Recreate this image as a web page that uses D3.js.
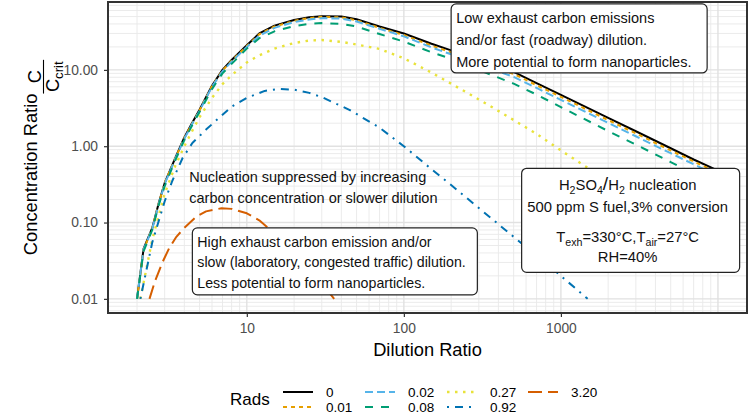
<!DOCTYPE html>
<html><head><meta charset="utf-8">
<script src="https://cdn.jsdelivr.net/npm/d3@7/dist/d3.min.js"></script>
<style>
body{margin:0;background:#fff;}
svg{display:block;font-family:"Liberation Sans",Arial,Helvetica,sans-serif;}
</style></head><body>
<svg id="chart" width="750" height="414"></svg>
<script>
// ---------------- data ----------------
const radsLevels = ["0","0.01","0.02","0.08","0.27","0.92","3.20"];

const dilutionMain = [2,2.2,2.5,2.75,3,3.5,4,4.5,5,6,7,8,10,12,15,20,25,30,40,50,70,100,150,200,300,500,700,1000,2000,3000,5000,7000,10000];
const concRads0    = [0.01,0.045,0.085,0.18,0.33,0.7,1.3,2.05,3.0,6.2,10,13.5,21,30,38,45,49,50.6,50,46,37,30,22,18,13.5,9.4,6.7,4.7,2.35,1.57,0.94,0.67,0.48];
const concRads001  = [0.01,0.044,0.084,0.178,0.33,0.69,1.28,2.0,2.95,6.1,9.8,13.2,20.5,29.3,37,43.8,47.8,49.5,48.8,44.5,35.5,28.6,20.8,17.0,12.7,8.85,6.3,4.42,2.2,1.47,0.88,0.63,0.45];
const concRads002  = [0.01,0.044,0.083,0.175,0.32,0.68,1.25,1.98,2.9,6.0,9.6,12.8,20,28,35.5,42.3,45.8,47.5,47,43,34.5,27.5,19.7,16,11.7,8.1,5.8,4.05,2.02,1.35,0.81,0.58,0.41];
const concRads008  = [0.01,0.042,0.08,0.17,0.3,0.65,1.2,1.9,2.8,5.6,9.0,12,19,26,32,37.5,40.2,41,40,37,29.5,23.5,17,14,10,6.6,4.75,3.25,1.58,1.05,0.62,0.44,0.31];

const dilutionRads027 = [2.1,2.5,3,3.5,4,4.5,5,6,7,8,10,12,15,20,25,30,40,50,70,100,150,200,300,400,500,700,1000,1300,2000,3000,5000,7000,10000];
const concRads027     = [0.01,0.06,0.24,0.55,1.0,1.6,2.4,4.3,6.5,8.5,12.5,15.5,19,22.5,24.2,24.6,23.3,21.5,18.8,14.2,9.2,6.6,4.1,2.9,2.2,1.45,0.88,0.62,0.35,0.19,0.085,0.05,0.03];

const dilutionRads092 = [2.1,2.5,3,3.35,3.9,4.5,5.5,6.5,8,10,13,16,20,25,30,45,70,100,150,200,300,400,500,700,1000,1480];
const concRads092     = [0.01,0.055,0.19,0.35,0.7,1.1,1.65,2.25,3.3,4.3,5.3,5.65,5.5,5.0,4.4,3.0,1.75,1.0,0.5,0.31,0.155,0.095,0.065,0.037,0.02,0.01];

const dilutionRads320 = [2.4,2.6,2.9,3.2,3.56,4,4.77,5.5,6.9,8,10,12,15,20,25,30,36];
const concRads320     = [0.01,0.017,0.03,0.046,0.065,0.085,0.12,0.14,0.154,0.151,0.132,0.107,0.072,0.04,0.025,0.016,0.01];

const xTickValues = [10,100,1000];
const xTickLabels = ["10","100","1000"];
const yTickValues = [0.01,0.1,1,10];
const yTickLabels = ["0.01","0.10","1.00","10.00"];

// ---------------- styles ----------------
const colors = ["#000000","#E69F00","#56B4E9","#009E73","#E8E23A","#0072B2","#D55E00"];
const dashes = ["none","4,4","8,4","8,8","2.5,5.5","2,6,8,6","14,6"];

const series = [
  {x: dilutionMain, y: concRads0},
  {x: dilutionMain, y: concRads001},
  {x: dilutionMain, y: concRads002},
  {x: dilutionMain, y: concRads008},
  {x: dilutionRads027, y: concRads027},
  {x: dilutionRads092, y: concRads092},
  {x: dilutionRads320, y: concRads320}
].map((s,i)=>({name: radsLevels[i], color: colors[i], dash: dashes[i], pts: s.x.map((v,j)=>[v, s.y[j]])}));

const svg = d3.select("#chart");
const panel = {left:108, right:747, top:2, bottom:313};
const FONT = '"Liberation Sans",Arial,sans-serif';

function expLog(ext){ const a=Math.log10(ext[0]), b=Math.log10(ext[1]); const r=b-a; return [10**(a-0.05*r), 10**(b+0.05*r)]; }
const xs = expLog(d3.extent(series.flatMap(s=>s.pts.map(p=>p[0]))));
const ys = expLog(d3.extent(series.flatMap(s=>s.pts.map(p=>p[1]))));
const x = d3.scaleLog().domain(xs).range([panel.left, panel.right]);
const y = d3.scaleLog().domain(ys).range([panel.bottom, panel.top]);

svg.append("rect").attr("width",750).attr("height",414).attr("fill","#fff");

// grid
const grid = svg.append("g");
function minorVals(dom){ const out=[]; for(let k=-4;k<=5;k++){ for(let m=2;m<=9;m++){ const v=m*10**k; if(v>dom[0]&&v<dom[1]) out.push(v);} } return out; }
function majorVals(dom){ const out=[]; for(let k=-4;k<=5;k++){ const v=10**k; if(v>dom[0]&&v<dom[1]) out.push(v);} return out; }
grid.selectAll(".mx").data(minorVals(xs)).join("line")
  .attr("x1",d=>x(d)).attr("x2",d=>x(d)).attr("y1",panel.top).attr("y2",panel.bottom)
  .attr("stroke","#e9e9e9").attr("stroke-width",0.9);
grid.selectAll(".my").data(minorVals(ys)).join("line")
  .attr("y1",d=>y(d)).attr("y2",d=>y(d)).attr("x1",panel.left).attr("x2",panel.right)
  .attr("stroke","#e9e9e9").attr("stroke-width",0.9);
grid.selectAll(".Mx").data(majorVals(xs)).join("line")
  .attr("x1",d=>x(d)).attr("x2",d=>x(d)).attr("y1",panel.top).attr("y2",panel.bottom)
  .attr("stroke","#e1e1e1").attr("stroke-width",1.4);
grid.selectAll(".My").data(majorVals(ys)).join("line")
  .attr("y1",d=>y(d)).attr("y2",d=>y(d)).attr("x1",panel.left).attr("x2",panel.right)
  .attr("stroke","#e1e1e1").attr("stroke-width",1.4);

svg.append("clipPath").attr("id","clip").append("rect")
  .attr("x",panel.left).attr("y",panel.top).attr("width",panel.right-panel.left).attr("height",panel.bottom-panel.top);

const line = d3.line().x(d=>x(d[0])).y(d=>y(d[1]));
svg.append("g").attr("clip-path","url(#clip)").selectAll("path").data(series).join("path")
  .attr("d",d=>line(d.pts)).attr("fill","none").attr("stroke",d=>d.color)
  .attr("stroke-width",(d,i)=>i===4?2.4:2).attr("stroke-dasharray",d=>d.dash).attr("stroke-linejoin","round");

// rich text helper: segments {t, sub, big}
function richText(t, segs, fs){
  let cur = 0;
  segs.forEach(seg=>{
    const ts = t.append("tspan").text(seg.t);
    const target = seg.sub ? 4 : 0;
    if(target!==cur){ ts.attr("dy", target-cur); cur = target; }
    if(seg.sub) ts.attr("font-size", fs*0.72);
    else if(seg.big) ts.attr("font-size", fs*1.3);
  });
}

function addLabel(cfg){
  const g = svg.append("g");
  const ax = x(cfg.x), ay = y(cfg.y);
  const left = cfg.hjust===0 ? ax : ax - cfg.w/2;
  const top = ay - cfg.h/2;
  if(cfg.box){
    g.append("rect").attr("x",left).attr("y",top).attr("width",cfg.w).attr("height",cfg.h)
      .attr("rx",5).attr("ry",5).attr("fill","#fff").attr("stroke","#222").attr("stroke-width",1.2);
  }
  cfg.lines.forEach((ln,i)=>{
    const t = g.append("text").attr("font-size",cfg.fs).attr("fill","#111").attr("y", top + cfg.lineY[i]);
    if(cfg.align==="middle"){ t.attr("x", left + cfg.w/2 + (cfg.dx||0)).attr("text-anchor","middle"); }
    else { t.attr("x", left + cfg.pad); }
    richText(t, ln, cfg.fs);
  });
}

addLabel({x:200, y:25.8, hjust:0, box:true, w:256, h:69, pad:5, fs:14.5, lineY:[19.5,41.2,63],
  lines:[[{t:"Low exhaust carbon emissions"}],[{t:"and/or fast (roadway) dilution."}],[{t:"More potential to form nanoparticles."}]]});
addLabel({x:4.3, y:0.29, hjust:0, box:false, w:0, h:42, pad:0, fs:14.5, lineY:[15.5,36.5],
  lines:[[{t:"Nucleation suppressed by increasing"}],[{t:"carbon concentration or slower dilution"}]]});
addLabel({x:4.5, y:0.031, hjust:0, box:true, w:285, h:67, pad:5, fs:14.2, lineY:[19,39.5,60.5],
  lines:[[{t:"High exhaust carbon emission and/or"}],[{t:"slow (laboratory, congested traffic) dilution."}],[{t:"Less potential to form nanoparticles."}]]});
addLabel({x:2780, y:0.107, hjust:0.5, box:true, w:218, h:104, pad:0, fs:14.8, align:"middle", dx:-3, lineY:[22,44,74,94],
  lines:[
    [{t:"H"},{t:"2",sub:true},{t:"SO"},{t:"4",sub:true},{t:"/",big:true},{t:"H"},{t:"2",sub:true},{t:" nucleation"}],
    [{t:"500 ppm S fuel,3% conversion"}],
    [{t:"T"},{t:"exh",sub:true},{t:"=330°C,T"},{t:"air",sub:true},{t:"=27°C"}],
    [{t:"RH=40%"}]
  ]});

// panel border
svg.append("rect").attr("x",panel.left).attr("y",panel.top).attr("width",panel.right-panel.left).attr("height",panel.bottom-panel.top)
  .attr("fill","none").attr("stroke","#333").attr("stroke-width",2);

// axes
const xAxis = svg.append("g").attr("transform",`translate(0,${panel.bottom})`)
  .call(d3.axisBottom(x).tickValues(xTickValues).tickFormat((d,i)=>xTickLabels[i]).tickSize(4).tickPadding(6));
const yAxis = svg.append("g").attr("transform",`translate(${panel.left},0)`)
  .call(d3.axisLeft(y).tickValues(yTickValues).tickFormat((d,i)=>yTickLabels[i]).tickSize(4).tickPadding(6));
[xAxis,yAxis].forEach(a=>{
  a.select(".domain").remove();
  a.selectAll(".tick line").attr("stroke","#333").attr("stroke-width",1.2);
  a.selectAll(".tick text").attr("font-family",FONT).attr("font-size",13.8).attr("fill","#4d4d4d");
});

// axis titles
svg.append("text").attr("x",(panel.left+panel.right)/2).attr("y",356).attr("text-anchor","middle")
  .attr("font-size",18.3).attr("fill","#000").text("Dilution Ratio");

const yt = svg.append("g").attr("transform",`translate(37,${(panel.top+panel.bottom)/2}) rotate(-90)`);
const fsT = 18.3;
const mainT = yt.append("text").attr("font-size",fsT).attr("fill","#000").text("Concentration Ratio ");
const mainW = mainT.node().getComputedTextLength();
const denom = yt.append("text").attr("font-size",fsT).attr("fill","#000");
denom.append("tspan").text("C");
denom.append("tspan").attr("font-size",fsT*0.72).attr("dy",4).text("crit");
const denW = denom.node().getComputedTextLength();
const fracW = denW + 3;
const totalW = mainW + fracW;
const x0 = -totalW/2;
mainT.attr("x",x0).attr("y",0);
const fx = x0 + mainW;
const barY = 6.5;
yt.append("line").attr("x1",fx).attr("x2",fx+fracW).attr("y1",barY).attr("y2",barY).attr("stroke","#000").attr("stroke-width",1.1);
yt.append("text").attr("font-size",fsT).attr("x",fx+fracW/2).attr("y",barY-2.5).attr("text-anchor","middle").text("C");
denom.attr("x",fx+1.5).attr("y",barY+2.5+13.1);

// legend
const leg = svg.append("g");
leg.append("text").attr("x",230).attr("y",405).attr("font-size",17).attr("fill","#000").text("Rads");
const colX = [283,365,447,528], rowY = [392,407];
series.forEach((s,i)=>{
  const c = Math.floor(i/2), r = i%2;
  const kx = colX[c], ky = rowY[r];
  leg.append("line").attr("x1",kx).attr("x2",kx+30).attr("y1",ky).attr("y2",ky)
    .attr("stroke",s.color).attr("stroke-width",i===4?2.4:2).attr("stroke-dasharray",s.dash);
  leg.append("text").attr("x",kx+43).attr("y",ky+4.8).attr("font-size",13.5).attr("fill","#000").text(s.name);
});
</script>
</body></html>
